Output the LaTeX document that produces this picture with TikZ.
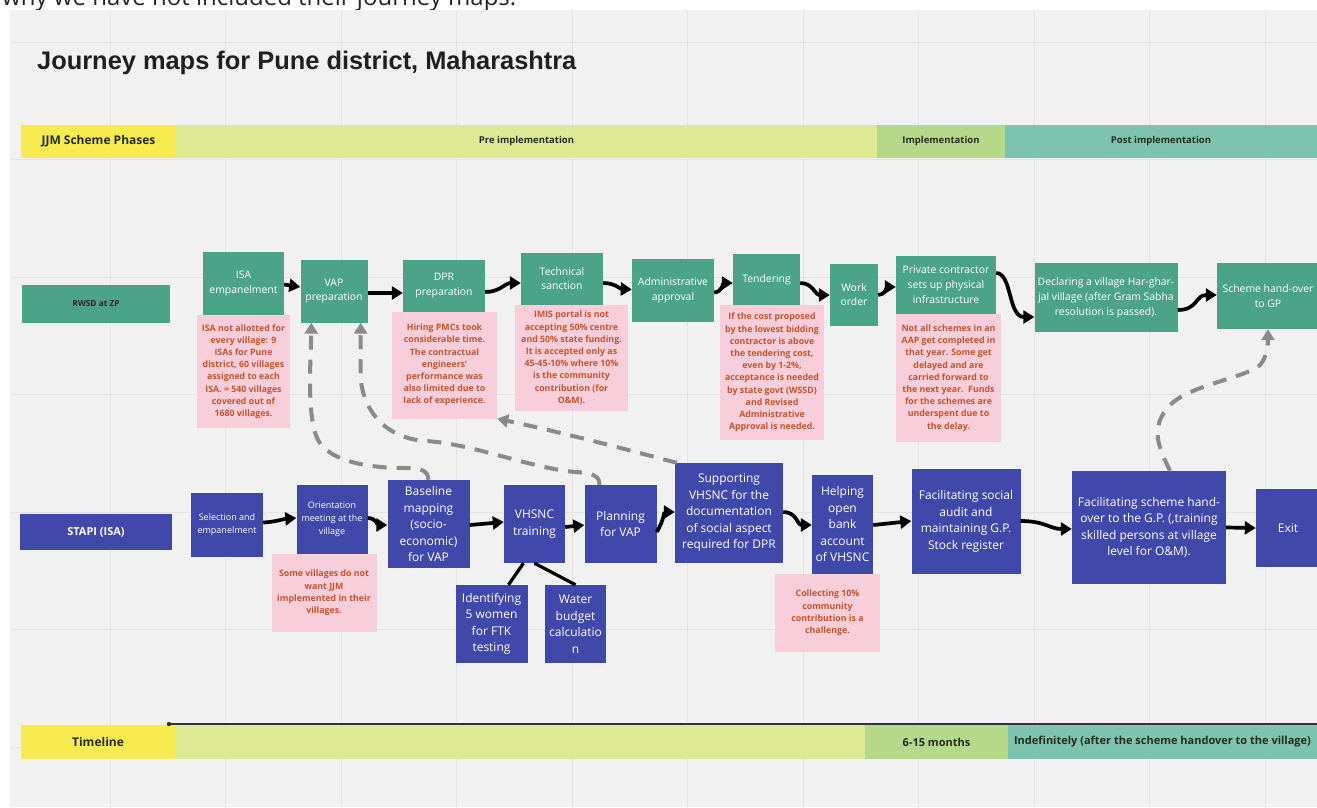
\documentclass[tikz,border=0pt]{standalone}
\usepackage{fontspec}
\setmainfont{Open Sans}
\newfontfamily\titlefont{Liberation Sans}
\usetikzlibrary{arrows.meta,calc}

\definecolor{canvas}{RGB}{241,241,241}
\definecolor{gridline}{RGB}{228,228,228}
\definecolor{zpgreen}{RGB}{76,164,136}
\definecolor{isablue}{RGB}{64,72,170}
\definecolor{notepink}{RGB}{247,206,218}
\definecolor{notetext}{RGB}{196,84,44}
\definecolor{phaseyellow}{RGB}{248,235,82}
\definecolor{phasepale}{RGB}{222,233,148}
\definecolor{phasegreen}{RGB}{182,216,139}
\definecolor{phaseteal}{RGB}{126,195,175}
\definecolor{dashgray}{RGB}{138,138,138}
\definecolor{barlabel}{RGB}{35,45,30}

\begin{document}
\begin{tikzpicture}[x=1pt,y=-1pt,
  gbox/.style={fill=zpgreen, text=white, inner sep=0pt, align=center,
    font=\fontsize{10.4}{14.8}\selectfont},
  bbox/.style={fill=isablue, text=white, inner sep=0pt, align=center,
    font=\fontsize{12}{16.5}\selectfont},
  sbox/.style={bbox, font=\fontsize{9}{12.8}\selectfont},
  note/.style={fill=notepink, text=notetext, inner sep=0pt, align=center,
    font=\bfseries\fontsize{8.8}{12.2}\selectfont},
  bar/.style={inner sep=0pt, text=barlabel, minimum height=33pt,
    font=\bfseries\fontsize{9.5}{11}\selectfont},
  flow/.style={black, line width=3.7pt, -{Triangle[length=11pt,width=13pt]}},
  flowplain/.style={black, line width=3.2pt},
  back/.style={dashgray, line width=4pt, dash pattern=on 14pt off 10pt,
    -{Triangle[length=11pt,width=13pt]}}
]
\useasboundingbox (0,0) rectangle (1317,807);

% sentence running off the top edge
\begin{scope}
  \clip (0,0) rectangle (1317,10);
  \node[anchor=base west, inner sep=0pt, text=black!85,
        font=\fontsize{24}{28}\selectfont] (intro) at (2,5)
        {why we have not included their journey maps.};
\end{scope}

% board and its grid
\fill[canvas] (10,10) rectangle (1317,807);
\foreach \gx in {0,...,10}
  \draw[gridline, line width=1pt] ({110+115.5*\gx},10) -- ({110+115.5*\gx},807);
\foreach \gy in {0,...,6}
  \draw[gridline, line width=1pt] (10,{42+117.5*\gy}) -- (1317,{42+117.5*\gy});

% title
\node[anchor=base west, inner sep=0pt, text=black!88,
      font=\titlefont\bfseries\fontsize{25.4}{30}\selectfont] (title) at (37,69)
      {Journey maps for Pune district, Maharashtra};

% phase band
\node[bar, fill=phaseyellow, minimum width=155pt,
      font=\bfseries\fontsize{12}{14}\selectfont] (phases) at (98.5,141.5) {JJM Scheme Phases};
\node[bar, fill=phasepale, minimum width=701pt] (pre) at (526.5,141.5) {Pre implementation};
\node[bar, fill=phasegreen, minimum width=128pt] (impl) at (941,141.5) {Implementation};
\node[bar, fill=phaseteal, minimum width=312pt] (post) at (1161,141.5) {Post implementation};

% timeline band
\node[bar, fill=phaseyellow, minimum width=154pt, minimum height=34pt,
      font=\bfseries\fontsize{12}{14}\selectfont] (tl) at (98,742) {Timeline};
\node[bar, fill=phasepale, minimum width=690pt, minimum height=34pt] (tlpre) at (520,742) {};
\node[bar, fill=phasegreen, minimum width=143pt, minimum height=34pt,
      font=\bfseries\fontsize{11}{13}\selectfont] (tlimpl) at (936.5,742) {6-15 months};
\node[bar, fill=phaseteal, minimum width=309pt, minimum height=34pt,
      font=\bfseries\fontsize{11}{13}\selectfont] (tlpost) at (1162.5,742)
      {Indefinitely (after the scheme handover to the village)};
\coordinate (tlstart) at (169,724);
\coordinate (tlend) at (1317,724);
\draw[black!80, line width=1.6pt] (tlstart) -- (tlend);
\fill[black!80] (tlstart) circle (2.2);

% RWSD at ZP lane
\node[gbox, minimum width=148pt, minimum height=38pt, text=black!85,
      font=\bfseries\fontsize{8.3}{10}\selectfont] (rwsd) at (96,304) {RWSD at ZP};
\node[gbox, minimum width=81pt, minimum height=63pt] (isa) at (243.5,283.5) {ISA\\empanelment};
\node[note, minimum width=93pt, minimum height=113pt] (isan) at (243.5,371.5)
  {ISA not allotted for\\every village: 9\\ISAs for Pune\\district, 60 villages\\assigned to each\\ISA. = 540 villages\\covered out of\\1680 villages.};
\node[gbox, minimum width=67pt, minimum height=63pt] (vap) at (334,291) {VAP\\preparation};
\node[gbox, minimum width=82pt, minimum height=52pt] (dpr) at (444,285.5) {DPR\\preparation};
\node[note, minimum width=105pt, minimum height=107pt] (dprn) at (444.5,365)
  {Hiring PMCs took\\considerable time.\\The contractual\\engineers’\\performance was\\also limited due to\\lack of experience.};
\node[gbox, minimum width=82pt, minimum height=52pt] (tech) at (562,278.5) {Technical\\sanction};
\node[note, minimum width=113pt, minimum height=106pt] (techn) at (571.5,358)
  {IMIS portal is not\\accepting 50\% centre\\and 50\% state funding.\\It is accepted only as\\45-45-10\% where 10\%\\is the community\\contribution (for\\O\&M).};
\node[gbox, minimum width=82pt, minimum height=63pt] (admin) at (673,290.5) {Administrative\\approval};
\node[gbox, minimum width=67pt, minimum height=51pt] (tender) at (766.5,279.5) {Tendering};
\node[note, minimum width=104pt, minimum height=135pt] (tendern) at (772,372.5)
  {If the cost proposed\\by the lowest bidding\\contractor is above\\the tendering cost,\\even by 1-2\%,\\acceptance is needed\\by state govt (WSSD)\\and Revised\\Administrative\\Approval is needed.};
\node[gbox, minimum width=48pt, minimum height=62pt] (work) at (854,294.5) {Work\\order};
\node[gbox, minimum width=100pt, minimum height=59pt] (priv) at (946,285)
  {Private contractor\\sets up physical\\infrastructure};
\node[note, minimum width=105pt, minimum height=128pt] (privn) at (948.5,378)
  {Not all schemes in an\\AAP get completed in\\that year. Some get\\delayed and are\\carried forward to\\the next year.\ \ Funds\\for the schemes are\\underspent due to\\the delay.};
\node[gbox, minimum width=143pt, minimum height=69pt] (decl) at (1106,297.5)
  {Declaring a village Har-ghar-\\jal village (after Gram Sabha\\resolution is passed).};
\node[gbox, minimum width=102pt, minimum height=66pt] (hand) at (1268,296) {Scheme hand-over\\to GP};

% STAPI (ISA) lane
\node[bbox, minimum width=152pt, minimum height=36pt,
      font=\bfseries\fontsize{11}{13}\selectfont] (stapi) at (96,532) {STAPI (ISA)};
\node[sbox, minimum width=72pt, minimum height=64pt] (sel) at (227,524.5) {Selection and\\empanelment};
\node[sbox, minimum width=71pt, minimum height=70pt] (ori) at (332,519.5) {Orientation\\meeting at the\\village};
\node[note, minimum width=105pt, minimum height=78pt] (orin) at (324,593)
  {Some villages do not\\want JJM\\implemented in their\\villages.};
\node[bbox, minimum width=82pt, minimum height=88pt] (base) at (428.5,524)
  {Baseline\\mapping\\(socio-\\economic)\\for VAP};
\node[bbox, minimum width=61pt, minimum height=78pt] (vhs) at (534.5,524) {VHSNC\\training};
\node[bbox, minimum width=72pt, minimum height=78pt] (ident) at (491.5,624)
  {Identifying\\5 women\\for FTK\\testing};
\node[bbox, minimum width=61pt, minimum height=78pt] (water) at (575.5,624)
  {Water\\budget\\calculatio\\n};
\node[bbox, minimum width=72pt, minimum height=78pt] (plan) at (620.5,524) {Planning\\for VAP};
\node[bbox, minimum width=108pt, minimum height=100pt] (supp) at (729,513)
  {Supporting\\VHSNC for the\\documentation\\of social aspect\\required for DPR};
\node[bbox, minimum width=61pt, minimum height=99pt] (bank) at (842.5,524)
  {Helping\\open\\bank\\account\\of VHSNC};
\node[note, minimum width=105pt, minimum height=78pt] (bankn) at (827.5,613)
  {Collecting 10\%\\community\\contribution is a\\challenge.};
\node[bbox, minimum width=109pt, minimum height=105pt] (audit) at (966,521.5)
  {Facilitating social\\audit and\\maintaining G.P.\\Stock register};
\node[bbox, minimum width=154pt, minimum height=113pt] (facil) at (1149,527.5)
  {Facilitating scheme hand-\\over to the G.P. (,training\\skilled persons at village\\level for O\&M).};
\node[bbox, minimum width=64pt, minimum height=78pt] (exit) at (1288,528) {Exit};

% flow of the RWSD lane
\draw[flow] ($(isa.east)+(0,1)$) -- ($(vap.west)+(0,-4)$);
\draw[flow] ($(vap.east)+(0,2)$) -- ($(dpr.west)+(0,7.5)$);
\draw[flow] ($(dpr.east)+(0,6.5)$) .. controls (500,292) and (505,283) .. ($(tech.west)+(0,4.5)$);
\draw[flow] ($(tech.east)+(0,4.5)$) .. controls (615,283) and (620,289) .. ($(admin.west)+(0,-1)$);
\draw[flow] ($(admin.east)+(0,2)$) .. controls (722,292) and (724,283) .. ($(tender.west)+(0,3.5)$);
\draw[flow] ($(tender.east)+(0,3.5)$) .. controls (813,283) and (815,295) .. ($(work.west)+(0,0.5)$);
\draw[flow] ($(work.east)+(0,0.5)$) .. controls (885,295) and (888,287) .. ($(priv.west)+(0,2)$);
\draw[flow] ($(priv.east)+(0,-12)$) .. controls (1012,273) and (1008,317) .. ($(decl.west)+(0,19.5)$);
\draw[flow] ($(decl.east)+(0,12.5)$) .. controls (1198,310) and (1195,295) .. ($(hand.west)+(0,-1)$);

% flow of the STAPI lane
\draw[flow] ($(sel.east)+(0,-2)$) .. controls (275,522) and (283,519) .. ($(ori.west)+(0,-1.5)$);
\draw[flow] ($(ori.east)+(0,-1.5)$) .. controls (376,518) and (378,525) .. ($(base.west)+(0,1)$);
\draw[flow] ($(base.east)+(0,1)$) -- ($(vhs.west)+(0,-2)$);
\draw[flow] ($(vhs.east)+(0,3)$) -- ($(plan.west)+(0,1)$);
\draw[flow] ($(plan.east)+(0,8)$) .. controls (664,520) and (664,512) .. ($(supp.west)+(0,-1)$);
\draw[flow] ($(supp.east)+(0,-1)$) .. controls (797,512) and (797,525) .. ($(bank.west)+(0,1)$);
\draw[flow] ($(bank.east)+(0,1)$) -- ($(audit.west)+(0,-0.5)$);
\draw[flow] ($(audit.east)+(0,-0.5)$) .. controls (1045,521) and (1050,529) .. ($(facil.west)+(0,1.5)$);
\draw[flow] (facil.east) -- (exit.west);
\draw[flowplain] ($(vhs.south)+(-11,0)$) -- ($(ident.north)+(17,0)$);
\draw[flowplain] (vhs.south) -- (water.north);

% links from the STAPI lane back to the RWSD lane
\draw[back] (base.north) .. controls (428,470) and (420,468) .. (405,468)
  .. controls (370,468) and (330,462) .. (318,440)
  .. controls (306,415) and (311,360) .. ($(vap.south west)+(11,0)$);
\draw[back] ($(plan.north west)+(15,0)$) .. controls (600,476) and (593,473) .. (575,472)
  .. controls (530,468) and (470,443) .. (425,441)
  .. controls (385,438) and (362,410) .. (360.5,375)
  -- ($(vap.south east)+(-7,0)$);
\draw[back] ($(supp.north west)+(2,0)$) .. controls (625,449) and (560,432) .. (dprn.south east);
\draw[back] ($(facil.north)+(21,0)$) .. controls (1160,450) and (1148,428) .. (1170,405)
  .. controls (1190,385) and (1245,378) .. (1260,365)
  .. controls (1267,357) and (1268,345) .. (hand.south);
\end{tikzpicture}
\end{document}
